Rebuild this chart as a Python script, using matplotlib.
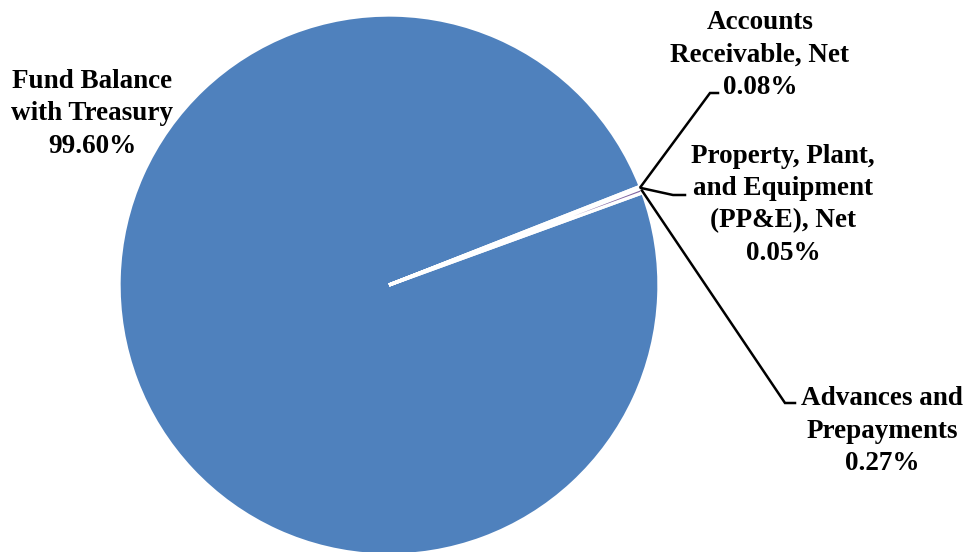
import numpy as np
import matplotlib.pyplot as plt

plt.rcParams['font.family'] = ['Liberation Serif', 'DejaVu Serif']

labels = ["Fund Balance\nwith Treasury", "Accounts\nReceivable, Net",
          "Property, Plant,\nand Equipment\n(PP&E), Net", "Advances and\nPrepayments"]
shares = [99.60, 0.08, 0.05, 0.27]
colors = ["#4F81BD", "#C0504D", "#9BBB59", "#8064A2"]

# pixel layout helpers (figure is 966x552, pie centre at 389,285, radius 270 px)
W, H = 966, 552
CX, CY, R = 389, 285, 270


def px(x, y):
    return (x - CX) / R, (CY - y) / R


fig = plt.figure(figsize=(W / 100, H / 100), dpi=100)
ax = fig.add_axes([0, 0, 1, 1])
wedges, _ = ax.pie(shares, colors=colors, startangle=20.0, counterclock=False,
                   wedgeprops=dict(edgecolor="white", linewidth=2.4))
ax.set_aspect("equal")
ax.set_xlim(px(0, 0)[0], px(W, 0)[0])
ax.set_ylim(px(0, H)[1], px(0, 0)[1])
ax.axis("off")

# label text centres and leader-line elbows, in pixels
text_pos = [(92, 114), (760, 55), (783, 205), (882, 431)]
elbows = [None, [(710, 93), (718, 93)], [(673, 195), (685, 195)],
          [(785, 403), (795, 403)]]

for i, (lab, val) in enumerate(zip(labels, shares)):
    tx, ty = px(*text_pos[i])
    ax.text(tx, ty, f"{lab}\n{val:.2f}%", ha="center", va="center",
            fontsize=19.5, fontweight="bold", linespacing=1.38)
    if elbows[i] is not None:
        w = wedges[i]
        ang = np.deg2rad((w.theta1 + w.theta2) / 2)
        xs = [np.cos(ang)] + [px(*p)[0] for p in elbows[i]]
        ys = [np.sin(ang)] + [px(*p)[1] for p in elbows[i]]
        ax.plot(xs, ys, color="black", lw=1.8, solid_joinstyle="miter")

fig.savefig("out.png", dpi=100)
